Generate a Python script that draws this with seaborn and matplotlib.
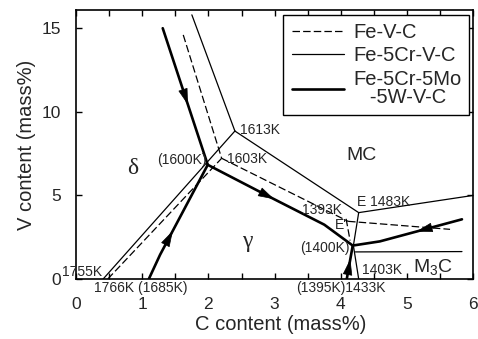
import numpy as np
import matplotlib
matplotlib.use("Agg")
import matplotlib.pyplot as plt
import seaborn as sns
from matplotlib.lines import Line2D
from matplotlib.ticker import MultipleLocator

# ---- Fe-V-C (dashed) ----
fvc_dg_x = [0.48, 2.20]
fvc_dg_y = [0.0, 7.22]
fvc_dmc_x = [1.62, 2.20]
fvc_dmc_y = [14.6, 7.22]
fvc_gmc_x = [2.20, 4.11]
fvc_gmc_y = [7.22, 3.45]
fvc_right_x = [4.11, 5.65]
fvc_right_y = [3.45, 2.97]
fvc_down_x = [4.08, 4.14]
fvc_down_y = [3.6, 2.3]

# ---- Fe-5Cr-V-C (thin solid) ----
fcr_dg_x = [0.41, 2.40]
fcr_dg_y = [0.0, 8.85]
fcr_dmc_x = [1.75, 2.40]
fcr_dmc_y = [15.8, 8.85]
fcr_gmc_x = [2.40, 4.27]
fcr_gmc_y = [8.85, 3.97]
fcr_right_x = [4.27, 6.0]
fcr_right_y = [3.97, 5.0]
fcr_down_x = [4.27, 4.19, 4.27]
fcr_down_y = [3.97, 2.0, 0.0]
fcr_m3c_x = [4.22, 5.83]
fcr_m3c_y = [1.62, 1.64]

# ---- Fe-5Cr-5Mo-5W-V-C (thick, with arrows) ----
fmo_top_x = [1.31, 1.99]
fmo_top_y = [15.0, 6.83]
fmo_low_x = [1.10, 1.27, 1.99]
fmo_low_y = [0.0, 1.45, 6.83]
fmo_mid_x = [1.99, 2.98, 3.75, 4.18]
fmo_mid_y = [6.83, 4.80, 3.25, 2.0]
fmo_right_x = [5.83, 4.59, 4.18]
fmo_right_y = [3.57, 2.25, 2.0]
fmo_bot_x = [4.09, 4.18]
fmo_bot_y = [0.0, 2.0]

# arrow places (fraction along each thick path)
arrow_fracs = {"top": 0.56, "low": 0.42, "mid": 0.45, "right": 0.42, "bot": 0.6}

labels = ["Fe-V-C", "Fe-5Cr-V-C", "Fe-5Cr-5Mo\n   -5W-V-C"]

sns.set_style("ticks")
plt.rcParams["font.family"] = ["Liberation Sans", "DejaVu Sans"]
plt.rcParams["mathtext.fontset"] = "custom"
plt.rcParams["mathtext.rm"] = "Liberation Sans"
plt.rcParams["mathtext.it"] = "Liberation Sans"

fig, ax = plt.subplots(figsize=(4.78, 3.39), dpi=100)
fig.subplots_adjust(left=0.159, right=0.990, top=0.971, bottom=0.177)

DASH = (0, (6, 2.5))
thin_lw, thick_lw = 0.9, 1.9

for xs, ys in [(fvc_dg_x, fvc_dg_y), (fvc_dmc_x, fvc_dmc_y), (fvc_gmc_x, fvc_gmc_y),
               (fvc_right_x, fvc_right_y), (fvc_down_x, fvc_down_y)]:
    sns.lineplot(x=xs, y=ys, sort=False, estimator=None, color="k",
                 linewidth=thin_lw, linestyle=DASH, ax=ax)

for xs, ys in [(fcr_dg_x, fcr_dg_y), (fcr_dmc_x, fcr_dmc_y), (fcr_gmc_x, fcr_gmc_y),
               (fcr_right_x, fcr_right_y), (fcr_down_x, fcr_down_y), (fcr_m3c_x, fcr_m3c_y)]:
    sns.lineplot(x=xs, y=ys, sort=False, estimator=None, color="k",
                 linewidth=thin_lw, ax=ax)

thick = {"top": (fmo_top_x, fmo_top_y), "low": (fmo_low_x, fmo_low_y),
         "mid": (fmo_mid_x, fmo_mid_y), "right": (fmo_right_x, fmo_right_y),
         "bot": (fmo_bot_x, fmo_bot_y)}
for xs, ys in thick.values():
    sns.lineplot(x=xs, y=ys, sort=False, estimator=None, color="k",
                 linewidth=thick_lw, ax=ax)

ax.set_xlim(0, 6)
ax.set_ylim(0, 16.1)


def arrow_on(xs, ys, frac, back=11):
    # arrow head placed along a path, pointing the way the path runs
    pts = ax.transData.transform(np.column_stack([xs, ys]))
    s = np.concatenate([[0], np.cumsum(np.hypot(*np.diff(pts, axis=0).T))])
    t = frac * s[-1]
    tip = np.array([np.interp(t, s, pts[:, 0]), np.interp(t, s, pts[:, 1])])
    tail = np.array([np.interp(t - back, s, pts[:, 0]), np.interp(t - back, s, pts[:, 1])])
    inv = ax.transData.inverted()
    ax.annotate("", xy=inv.transform(tip), xytext=inv.transform(tail),
                arrowprops=dict(arrowstyle="-|>,head_length=0.75,head_width=0.22",
                                color="k", lw=0.5, shrinkA=0, shrinkB=0,
                                mutation_scale=14))


for key, (xs, ys) in thick.items():
    arrow_on(xs, ys, arrow_fracs[key])

# ticks
ax.xaxis.set_major_locator(MultipleLocator(1))
ax.xaxis.set_minor_locator(MultipleLocator(0.5))
ax.yaxis.set_major_locator(MultipleLocator(5))
ax.tick_params(which="both", direction="in", top=True, right=True,
               length=4, width=1, color="k")
ax.tick_params(axis="x", labelsize=12.5, pad=13)
ax.tick_params(axis="y", labelsize=12.5, pad=11)
for sp in ax.spines.values():
    sp.set_linewidth(1.2)
    sp.set_color("k")

ax.set_xlabel("C content (mass%)", fontsize=14.5)
ax.xaxis.set_label_coords(0.516, -0.135)
ax.set_ylabel("V content (mass%)", fontsize=14.5, labelpad=4)

# annotations
fs = 10
ax.text(0.85, 6.6, "δ", fontsize=17, family=["Liberation Serif", "DejaVu Serif"],
        ha="center", va="center")
ax.text(2.58, 2.25, "γ", fontsize=17, family=["Liberation Serif", "DejaVu Serif"],
        ha="center", va="center")
ax.text(4.32, 7.4, "MC", fontsize=14, ha="center", va="center")
ax.text(5.09, 0.72, "M$_3$C", fontsize=14, ha="left", va="center")
ax.text(1.98, 7.1, "(1600K)", fontsize=fs, ha="right", va="center")
ax.text(2.28, 7.2, "1603K", fontsize=fs, ha="left", va="center")
ax.text(2.47, 8.9, "1613K", fontsize=fs, ha="left", va="center")
ax.text(3.72, 4.12, "1393K", fontsize=fs, ha="center", va="center")
ax.text(4.24, 4.6, "E 1483K", fontsize=fs, ha="left", va="center")
ax.text(4.0, 3.23, "E'", fontsize=fs, ha="center", va="center")
ax.text(4.14, 1.85, "(1400K)", fontsize=fs, ha="right", va="center")
ax.text(4.32, 0.54, "1403K", fontsize=fs, ha="left", va="center")
ax.text(4.0, -0.54, "(1395K)1433K", fontsize=fs, ha="center", va="center")
ax.text(0.09, 0.42, "1755K", fontsize=fs, ha="center", va="center")
ax.text(0.98, -0.54, "1766K (1685K)", fontsize=fs, ha="center", va="center")

handles = [Line2D([], [], color="k", lw=thin_lw, linestyle=DASH),
           Line2D([], [], color="k", lw=thin_lw),
           Line2D([], [], color="k", lw=thick_lw)]
leg = ax.legend(handles, labels, loc="upper right", bbox_to_anchor=(0.99, 0.982),
                borderaxespad=0, fontsize=14.5, frameon=True, fancybox=False,
                edgecolor="k", handlelength=2.6, handletextpad=0.45,
                labelspacing=0.22, borderpad=0.4)
leg.get_frame().set_linewidth(1.0)
leg.get_frame().set_alpha(1)
leg.get_texts()[2].set_linespacing(0.95)

fig.savefig("out.png", dpi=100)
